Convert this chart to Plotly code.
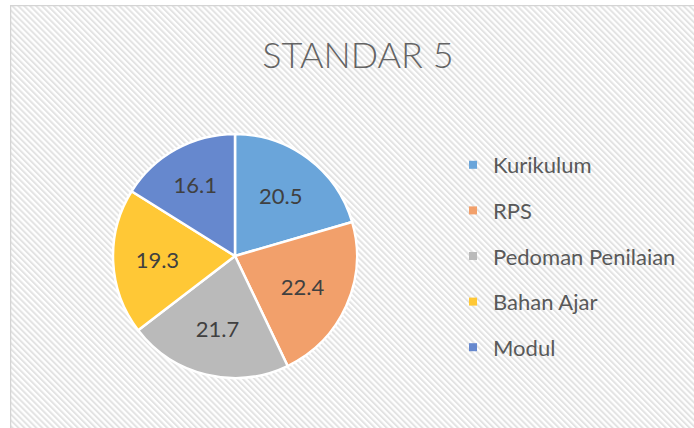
import base64
import plotly.graph_objects as go

# ---- data ----
categories = ["Kurikulum", "RPS", "Pedoman Penilaian", "Bahan Ajar", "Modul"]
values = [20.5, 22.4, 21.7, 19.3, 16.1]
colors = ["#6AA5DA", "#F2A06B", "#BABABA", "#FFC836", "#6688CE"]
title_text = "STANDAR 5"

W, H = 694, 428

# hatched chart-area background (decoration)
area_w, area_h = W - 10, H - 5
svg = f'''<svg xmlns="http://www.w3.org/2000/svg" width="{area_w}" height="{area_h}">
<defs><pattern id="p" patternUnits="userSpaceOnUse" width="4.2" height="4.2" patternTransform="rotate(-45)">
<rect x="0" y="0" width="4.2" height="4.2" fill="#ffffff"/>
<rect x="0" y="0" width="2.0" height="4.2" fill="#e3e3e3"/></pattern></defs>
<rect x="0" y="0" width="{area_w}" height="{area_h}" fill="url(#p)"/>
<line x1="0.5" y1="0" x2="0.5" y2="{area_h}" stroke="#d4d4d4" stroke-width="1.5"/>
<line x1="0" y1="0.5" x2="{area_w}" y2="0.5" stroke="#d4d4d4" stroke-width="1.5"/>
</svg>'''
bg_uri = "data:image/svg+xml;base64," + base64.b64encode(svg.encode()).decode()

cx, cy, r = 235, 256, 122

fig = go.Figure()
fig.add_trace(go.Pie(
    labels=categories, values=values, sort=False, direction="clockwise", rotation=0,
    marker=dict(colors=colors, line=dict(color="white", width=2.5)),
    textinfo="value", texttemplate="%{value}", textposition="inside",
    insidetextorientation="horizontal",
    textfont=dict(family="Lato", size=22, color="#404040"),
    domain=dict(x=[(cx - r) / W, (cx + r) / W], y=[(H - cy - r) / H, (H - cy + r) / H]),
    showlegend=False, hoverinfo="label+value",
))

for name, col in zip(categories, colors):
    fig.add_trace(go.Scatter(
        x=[None], y=[None], mode="markers", name=name, legendgroup=name,
        marker=dict(symbol="square", size=8, color=col),
    ))

fig.update_layout(
    width=W, height=H, margin=dict(l=0, r=0, t=0, b=0),
    paper_bgcolor="white", plot_bgcolor="rgba(0,0,0,0)",
    xaxis=dict(visible=False), yaxis=dict(visible=False),
    title=dict(text=title_text, x=358 / W, xanchor="center", y=1 - 55 / H, yanchor="middle",
               font=dict(family="Lato", size=36, color="#646464", weight=300)),
    legend=dict(x=453 / W, xanchor="left", y=1 - 144 / H, yanchor="top",
                font=dict(family="Lato", size=22, color="#595959"),
                tracegroupgap=14, bgcolor="rgba(0,0,0,0)"),
    images=[dict(source=bg_uri, xref="paper", yref="paper", x=10 / W, y=1 - 5 / H,
                 sizex=area_w / W, sizey=area_h / H, xanchor="left", yanchor="top",
                 sizing="stretch", layer="below")],
)

fig.write_html("out.html", config={"displayModeBar": False},
               post_script="document.body.style.margin='0';")
